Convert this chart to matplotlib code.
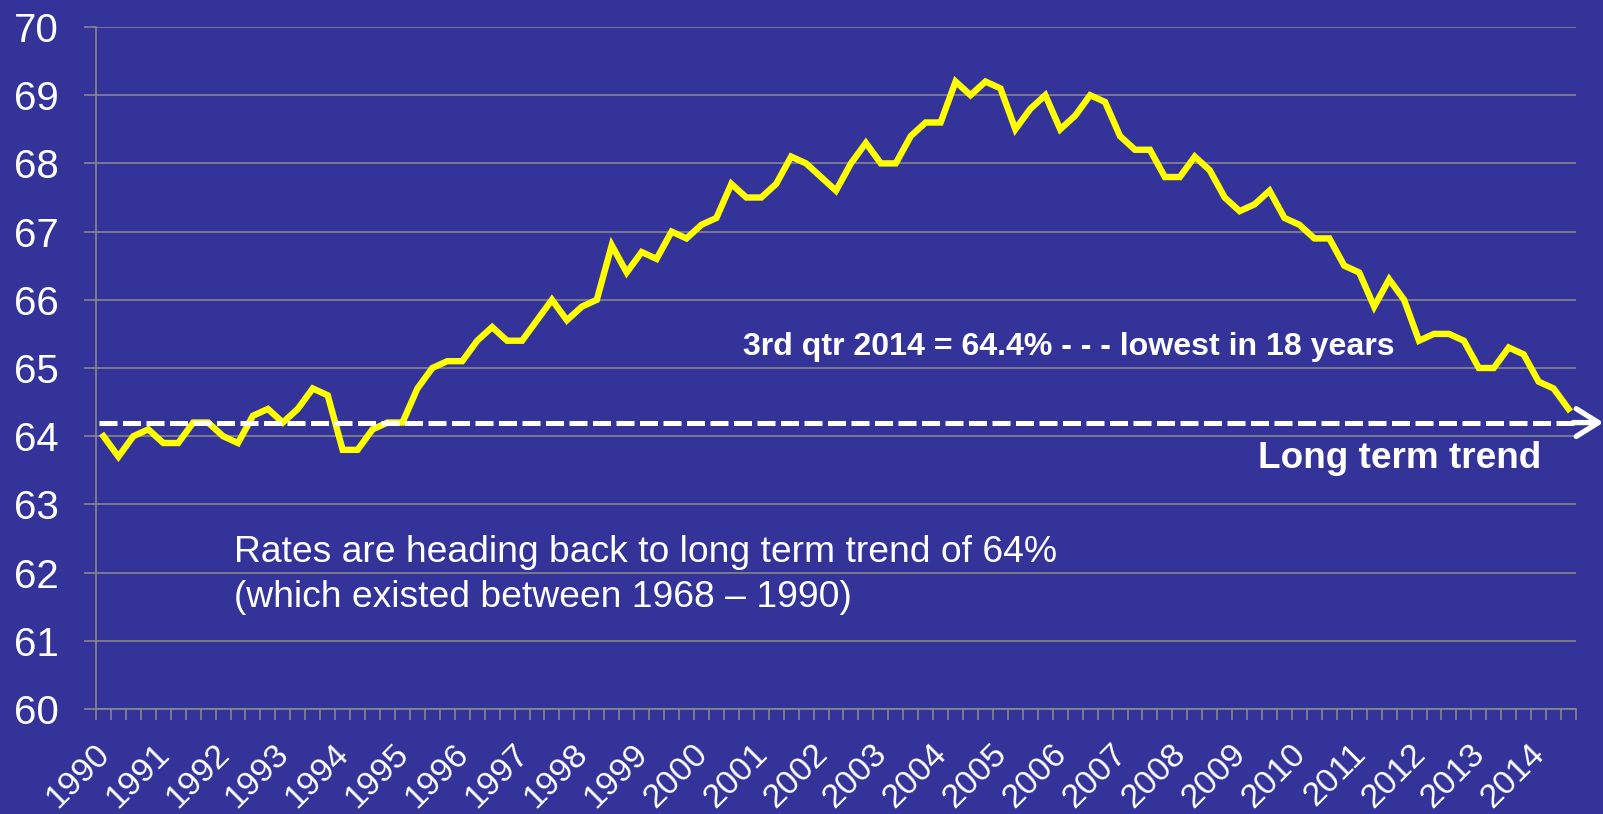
import matplotlib
matplotlib.use("Agg")
from matplotlib import pyplot as plt
from matplotlib.transforms import ScaledTranslation
import numpy as np

# quarterly homeownership rate, 1990 Q1 .. 2014 Q3
years = [str(y) for y in range(1990, 2015)]
rates = [
    64.0, 63.7, 64.0, 64.1,   # 1990
    63.9, 63.9, 64.2, 64.2,   # 1991
    64.0, 63.9, 64.3, 64.4,   # 1992
    64.2, 64.4, 64.7, 64.6,   # 1993
    63.8, 63.8, 64.1, 64.2,   # 1994
    64.2, 64.7, 65.0, 65.1,   # 1995
    65.1, 65.4, 65.6, 65.4,   # 1996
    65.4, 65.7, 66.0, 65.7,   # 1997
    65.9, 66.0, 66.8, 66.4,   # 1998
    66.7, 66.6, 67.0, 66.9,   # 1999
    67.1, 67.2, 67.7, 67.5,   # 2000
    67.5, 67.7, 68.1, 68.0,   # 2001
    67.8, 67.6, 68.0, 68.3,   # 2002
    68.0, 68.0, 68.4, 68.6,   # 2003
    68.6, 69.2, 69.0, 69.2,   # 2004
    69.1, 68.5, 68.8, 69.0,   # 2005
    68.5, 68.7, 69.0, 68.9,   # 2006
    68.4, 68.2, 68.2, 67.8,   # 2007
    67.8, 68.1, 67.9, 67.5,   # 2008
    67.3, 67.4, 67.6, 67.2,   # 2009
    67.1, 66.9, 66.9, 66.5,   # 2010
    66.4, 65.9, 66.3, 66.0,   # 2011
    65.4, 65.5, 65.5, 65.4,   # 2012
    65.0, 65.0, 65.3, 65.2,   # 2013
    64.8, 64.7, 64.4,         # 2014
]
trend = 64.2
y_ticks = list(range(60, 71))

BG = "#333399"
GRID = "#8c8c8c"
plt.rcParams["font.family"] = ["Liberation Sans", "DejaVu Sans"]

fig = plt.figure(figsize=(16.03, 8.14), dpi=100, facecolor=BG)
ax = fig.add_axes([96 / 1603, 1 - 709 / 814, 1480 / 1603, 682 / 814])
ax.set_facecolor(BG)

n = len(rates)
x = np.arange(n)
ax.plot(x, rates, color="#ffff00", linewidth=4.6, solid_joinstyle="miter", zorder=4)

ax.set_xlim(-0.5, n - 0.5)
ax.set_ylim(60, 70)

# gridlines / axes styling
ax.set_yticks(y_ticks)
ax.yaxis.grid(True, color=GRID, linewidth=1.1)
ax.set_axisbelow(True)
for s in ["top", "right"]:
    ax.spines[s].set_visible(False)
for s in ["left", "bottom"]:
    ax.spines[s].set_color(GRID)
    ax.spines[s].set_linewidth(1.1)
ax.tick_params(axis="y", colors=GRID, length=8.6, width=1.1, direction="out",
               labelcolor="white", labelsize=29, pad=18)

year_pos = x[::4]
ax.set_xticks(year_pos)
ax.set_xticklabels(years, rotation=45, ha="right", va="baseline",
                   rotation_mode="anchor", color="white", fontsize=24.5)
ax.set_xticks(np.arange(n + 1) - 0.5, minor=True)
ax.tick_params(axis="x", which="major", length=0, pad=33.5)
ax.tick_params(axis="x", which="minor", length=8, width=1.1, colors=GRID, direction="out")
shift = ScaledTranslation(7.5 / 100, 0, fig.dpi_scale_trans)
for lbl in ax.get_xticklabels():
    lbl.set_transform(lbl.get_transform() + shift)

# long term trend, dashed with arrow
ax.plot([0.002, 1.0], [trend, trend], transform=ax.get_yaxis_transform(),
        color="white", linewidth=3.6, linestyle=(0, (3.6, 1.1)), clip_on=False, zorder=5)
ax.annotate("", xy=(1.0185, trend), xytext=(0.998, trend),
            xycoords=ax.get_yaxis_transform(), textcoords=ax.get_yaxis_transform(),
            arrowprops=dict(arrowstyle="->,head_length=0.8,head_width=0.5",
                            color="white", lw=3.8, shrinkA=0, shrinkB=0,
                            mutation_scale=20),
            annotation_clip=False, zorder=5)

ax.text(42.8, 65.19, "3rd qtr 2014 = 64.4% - - - lowest in 18 years",
        color="white", fontsize=23.1, fontweight="bold", va="baseline", ha="left")
ax.text(77.2, 63.53, "Long term trend", color="white", fontsize=26.6,
        fontweight="bold", va="baseline", ha="left")
ax.text(8.75, 62.16, "Rates are heading back to long term trend of 64%",
        color="white", fontsize=26.8, va="baseline", ha="left")
ax.text(8.75, 61.5, "(which existed between 1968 \u2013 1990)",
        color="white", fontsize=26.8, va="baseline", ha="left")

fig.savefig("out.png", dpi=100, facecolor=BG)
